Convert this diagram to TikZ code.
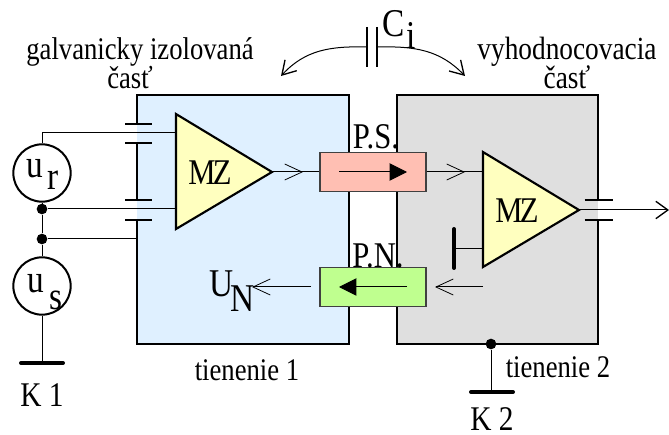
\documentclass[tikz,border=0pt]{standalone}
\usepackage{fontspec}
\usepackage{graphicx}
\setmainfont{Liberation Serif}
\usetikzlibrary{arrows.meta}
\definecolor{shieldA}{HTML}{DFF0FF}
\definecolor{shieldB}{HTML}{DFDFDF}
\definecolor{ampfill}{HTML}{FFFFBF}
\definecolor{psfill}{HTML}{FFBFB3}
\definecolor{pnfill}{HTML}{BFFF8F}
\newcommand{\tallx}[1]{\scalebox{1}[1.18]{#1}}
\tikzset{
  x=0.75pt,y=-0.75pt,
  txt/.style={inner sep=0pt,font=\fontsize{20}{21}\selectfont,align=center},
  mid/.style={inner sep=0pt,font=\fontsize{23}{24}\selectfont},
  big/.style={inner sep=0pt,font=\fontsize{25}{26}\selectfont},
  thick line/.style={line width=1.6pt},
  wire/.style={line width=0.75pt},
  plate/.style={line width=1.4pt},
  bar/.style={line width=3pt,line cap=round},
  amp/.style={draw,line width=1.6pt,fill=ampfill,line join=miter},
  coupler/.style={draw=black!75,line width=0.9pt,inner sep=0pt,minimum width=79.5pt,minimum height=29pt},
  open/.style={-{Straight Barb[length=13pt,width=12pt,line width=0.6pt]}},
  solid tip/.style={-{Triangle[length=13pt,width=13pt]}},
  dot/.style={circle,fill=black,inner sep=0pt,minimum size=8pt},
  src/.style={circle,draw,line width=1.5pt,inner sep=0pt,minimum size=43pt},
}
\begin{document}
\begin{tikzpicture}
\useasboundingbox (0,0) rectangle (669,435);
% shields
\fill[shieldA] (137,95) rectangle (349,344);
\fill[shieldB] (397,95) rectangle (598,344);
\coordinate (a1) at (137,124); \coordinate (a2) at (137,143);
\coordinate (a3) at (137,200); \coordinate (a4) at (137,220);
\coordinate (b1) at (598,200); \coordinate (b2) at (598,220);
\draw[thick line] (a1) -- (137,95) -- (349,95) -- (349,344) -- (137,344) -- (a4);
\draw[thick line] (a2) -- (a3);
\draw[thick line] (b1) -- (598,95) -- (397,95) -- (397,344) -- (598,344) -- (b2);
% capacitor plates on shield 1 and 2
\foreach \n in {a1,a2,a3,a4}{\draw[plate] ([xshift=-9]\n) -- ([xshift=11]\n);}
\foreach \n in {b1,b2}{\draw[plate] ([xshift=-10]\n) -- ([xshift=11]\n);}
% sources
\node[src] (ur) at (42,173) {};
\node[src] (us) at (42,286) {};
\node[dot] (d1) at (42,209) {};
\node[dot] (d2) at (42,239) {};
\node[dot] (d3) at (491,344) {};
% amplifiers
\coordinate (m1a) at (176,114); \coordinate (m1b) at (176,229); \coordinate (m1t) at (272,172);
\coordinate (m2a) at (483,152); \coordinate (m2b) at (483,267); \coordinate (m2t) at (579,210);
\coordinate (m1i1) at (176,133); \coordinate (m1i2) at (176,209);
\coordinate (m2i) at (483,172); \coordinate (m2g) at (483,249);
\coordinate (cw) at (42,133);
\draw[wire] (ur.north) -- (cw) -- (m1i1);
\draw[wire] (d1) -- (m1i2);
\draw[wire] (ur) -- (d1) -- (d2) -- (us);
\draw[wire] (d2) -- (a3 |- d2);
\draw[amp] (m1a) -- (m1t) -- (m1b) -- cycle;
\draw[amp] (m2a) -- (m2t) -- (m2b) -- cycle;
\node[mid] (mz1) at (210,173) {\tallx{M\kern-2pt Z}};
\node[mid] (mz2) at (517,211) {\tallx{M\kern-2pt Z}};
% couplers
\node[coupler,fill=psfill] (ps) at (373,172) {};
\node[coupler,fill=pnfill] (pn) at (373,287) {};
\coordinate (ps1) at (339,172); \coordinate (ps2) at (407,172);
\coordinate (pn1) at (407,287); \coordinate (pn2) at (339,287);
\draw[wire,solid tip] (ps1) -- (ps2);
\draw[wire,solid tip] (pn1) -- (pn2);
\coordinate (o1) at (303,172);
\draw[wire] (m1t) -- (ps.west);
\draw[wire,open] (m1t) -- (o1);
\coordinate (o2) at (465,172);
\draw[wire] (ps.east) -- (m2i);
\draw[wire,open] (ps.east) -- (o2);
\coordinate (o3) at (483,287); \coordinate (o4) at (435,287);
\draw[wire,open] (o3) -- (o4);
\coordinate (o5) at (311,287); \coordinate (o6) at (252,287);
\draw[wire,open] (o5) -- (o6);
\coordinate (out) at (669,210);
\draw[wire,-{Straight Barb[length=9pt,width=13pt,line width=1pt]}] (m2t) -- (out);
% reference bars
\coordinate (g) at (454,249);
\draw[wire] (g) -- (m2g);
\draw[bar] (454,229) -- (454,268);
\coordinate (k1) at (42,363); \coordinate (k2) at (491,392);
\draw[wire] (us) -- (k1);
\draw[wire] (d3) -- (k2);
\draw[bar] (21,363) -- (63,363);
\draw[bar] (471,392) -- (513,392);
% Ci
\coordinate (c1) at (367,47); \coordinate (c2) at (377,47);
\coordinate (t1) at (281,76); \coordinate (t2) at (465,76);
\draw[plate] (367,27) -- (367,67);
\draw[plate] (377,27) -- (377,67);
\draw[wire,-{Straight Barb[length=10pt,width=12pt,line width=1pt]}] (c1) .. controls (330,46) and (305,50) .. (t1);
\draw[wire,-{Straight Barb[length=10pt,width=12pt,line width=1pt]}] (c2) .. controls (415,46) and (440,50) .. (t2);
% text
\node[big] (ci) at (394,24) {\tallx{C}};
\node[big] (cis) at (411,35) {\tallx{i}};
\node[big] (u1) at (35,169) {\tallx{u}};
\node[big] (u1s) at (53,180) {\tallx{r}};
\node[big] (u2) at (36,284) {\tallx{u}};
\node[big] (u2s) at (56,300) {\tallx{s}};
\node[big] (un) at (222,284) {\tallx{U}};
\node[big] (uns) at (243,299) {\tallx{N}};
\node[txt] (left) at (140,63) {\tallx{galvanicky izolovaná}\\[-1pt]\tallx{časť}\hspace*{15pt}};
\node[txt,font=\fontsize{20.5}{21}\selectfont] (right) at (567,63) {\tallx{vyhodnocovacia}\\[-1pt]\tallx{časť}};
\node[mid] (pslab) at (376,137) {\tallx{P.S.}};
\node[mid] (pnlab) at (378,256) {\tallx{P.N.}};
\node[txt] (t1lab) at (247,370) {\tallx{tienenie 1}};
\node[txt] (t2lab) at (558,367) {\tallx{tienenie 2}};
\node[txt,font=\fontsize{22}{23}\selectfont] (k1lab) at (42,395) {\tallx{K 1}};
\node[txt,font=\fontsize{22}{23}\selectfont] (k2lab) at (492,419) {\tallx{K 2}};
\end{tikzpicture}
\end{document}
